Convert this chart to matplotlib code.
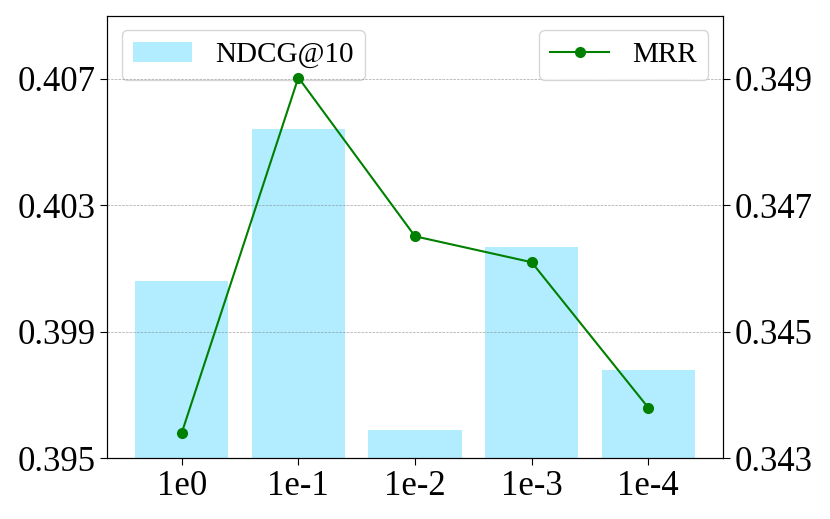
import matplotlib.pyplot as plt
import numpy as np

plt.rcParams['font.family'] = ['Liberation Serif', 'DejaVu Serif']
plt.rcParams['mathtext.fontset'] = 'stix'

labels = ["1e0", "1e-1", "1e-2", "1e-3", "1e-4"]
ndcg = [0.40061, 0.40542, 0.39590, 0.40169, 0.39780]
mrr = [0.34340, 0.34902, 0.34651, 0.34610, 0.34380]

x = np.arange(len(labels))

fig, ax = plt.subplots(figsize=(8.3, 5.19), dpi=100)
fig.subplots_adjust(left=0.129, right=0.871, top=0.970, bottom=0.117)

ax.bar(x, ndcg, width=0.8, color='#b2ecff', label='NDCG@10')
ax.set_ylim(0.395, 0.409)
ax.set_yticks([0.395, 0.399, 0.403, 0.407])
ax.set_yticklabels(["0.395", "0.399", "0.403", "0.407"])
ax.set_xticks(x)
ax.set_xticklabels(labels)
ax.tick_params(labelsize=25, length=5)

ax2 = ax.twinx()
ax2.plot(x, mrr, color='green', marker='o', markersize=7, linewidth=1.5, label='MRR')
ax2.set_ylim(0.343, 0.350)
ax2.set_yticks([0.343, 0.345, 0.347, 0.349])
ax2.set_yticklabels(["0.343", "0.345", "0.347", "0.349"])
ax2.tick_params(labelsize=25, length=5)
ax2.grid(axis='y', linestyle='--', color='gray', linewidth=0.5, alpha=0.7)

ax.legend(loc='upper left', fontsize=21)
ax2.legend(loc='upper right', fontsize=21)

plt.savefig('out.png', dpi=100)
